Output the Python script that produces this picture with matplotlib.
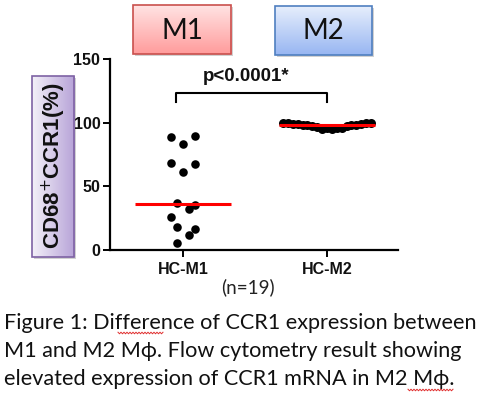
import numpy as np
import matplotlib
matplotlib.use("Agg")
import matplotlib.pyplot as plt
from matplotlib.patches import Rectangle
from matplotlib.colors import LinearSegmentedColormap

# ---------------- data ----------------
categories = ["HC-M1", "HC-M2"]
m1_values = [88.5, 89.6, 83.0, 68.7, 67.2, 61.5, 37.0, 35.0, 32.3, 26.0, 18.2, 16.2, 12.0, 5.2]
m2_values = [99.8, 99.6, 99.3, 99.0, 98.5, 98.0, 97.2, 96.5, 95.0, 95.8, 94.8, 96.0, 95.5,
             97.0, 98.0, 98.5, 99.0, 99.4, 99.7]
y_ticks = [0, 50, 100, 150]
p_label = "p<0.0001*"
n_label = "(n=19)"
y_label = "CD68$^{+}$CCR1(%)"
caption_lines = [
    "Figure 1: Difference of CCR1 expression between",
    "M1 and M2 M\u03d5. Flow cytometry result showing",
    "elevated expression of CCR1 mRNA in M2 M\u03d5.",
]

# horizontal scatter offsets (layout only)
m1_offsets = [-0.081, 0.081, 0.0, -0.081, 0.081, 0.0, -0.04, 0.081, 0.04,
              -0.081, -0.04, 0.081, 0.04, -0.04]
m2_offsets = np.linspace(-0.305, 0.305, len(m2_values))

W, H = 486, 394
fig = plt.figure(figsize=(W / 100, H / 100), dpi=100)

# overlay in pixel coordinates
ov = fig.add_axes([0, 0, 1, 1], zorder=0)
ov.set_xlim(0, W)
ov.set_ylim(H, 0)
ov.axis("off")


def grad_box(x0, y0, x1, y1, c_start, c_end, edge, vertical=True):
    ov.add_patch(Rectangle((x0 + 2, y0 + 2), x1 - x0, y1 - y0, facecolor="#9a9a9a",
                           alpha=0.45, edgecolor="none", zorder=1))
    cmap = LinearSegmentedColormap.from_list("g", [c_start, c_end])
    g = np.linspace(0, 1, 64)
    arr = g[:, None] if vertical else g[None, :]
    ov.imshow(arr, cmap=cmap, extent=(x0, x1, y1, y0), aspect="auto", zorder=2,
              interpolation="bilinear")
    ov.add_patch(Rectangle((x0, y0), x1 - x0, y1 - y0, facecolor="none",
                           edgecolor=edge, linewidth=1.2, zorder=3))


grad_box(133, 5, 231, 54, "#FFE3E3", "#FF9C9C", "#C9504D", vertical=True)
grad_box(275, 6, 372, 54.5, "#E6EEFC", "#98B6F2", "#4F7FC0", vertical=True)
grad_box(32, 76, 74, 257, "#F3F0F8", "#B7A3D8", "#7E62A4", vertical=False)

ov.set_xlim(0, W)
ov.set_ylim(H, 0)

ov.text(182, 31, "M1", fontsize=20, family=["Lato", "DejaVu Sans"], ha="center",
        va="center", color="#111111", zorder=4)
ov.text(323.5, 31, "M2", fontsize=20, family=["Lato", "DejaVu Sans"], ha="center",
        va="center", color="#111111", zorder=4)
ov.text(54, 166, y_label, fontsize=16, family="Liberation Sans", weight="bold",
        rotation=90, ha="center", va="center", color="#111111", zorder=4)
ov.text(247.5, 287, n_label, fontsize=13.5, family=["Lato", "DejaVu Sans"],
        ha="center", va="center", color="#222222", zorder=4)

cap_y = [323, 351, 379]
for yy, line in zip(cap_y, caption_lines):
    ov.text(4, yy, line, fontsize=15.6, family=["Lato", "DejaVu Sans"], ha="left",
            va="center", color="#111111", zorder=4)


def squiggle(xa, xb, yy):
    xs = np.arange(xa, xb + 0.1, 1.5)
    ys = yy + np.where(np.arange(len(xs)) % 2 == 0, -0.8, 0.8)
    ov.plot(xs, ys, color="#E03030", lw=0.7, zorder=4)


squiggle(118, 163, 333)
squiggle(408, 454, 390)

# ---------------- data axes ----------------
ax = fig.add_axes([110 / W, 1 - 250 / H, (398 - 110) / W, (250 - 59) / H], zorder=2)
ax.patch.set_alpha(0)
ax.set_xlim(-0.507, 1.493)
ax.set_ylim(0, 150)

xpos = np.arange(len(categories))
ax.scatter(xpos[0] + np.array(m1_offsets), m1_values, s=38, color="black", zorder=3,
           clip_on=False, linewidths=0)
ax.scatter(xpos[1] + m2_offsets, m2_values, s=42, color="black", zorder=3,
           clip_on=False, linewidths=0)
for xi, vals in zip(xpos, [m1_values, m2_values]):
    med = np.median(vals)
    ax.plot([xi - 0.33, xi + 0.33], [med, med], color="#FF0000", lw=2.2, zorder=4,
            solid_capstyle="butt")

# significance bracket
bx0, bx1, by, bdrop = -0.05, 1.0, 123, 116.5
ax.plot([bx0, bx0, bx1, bx1], [bdrop, by, by, bdrop], color="black", lw=1.5,
        clip_on=False, zorder=4)
ax.text(0.44, 136.5, p_label, fontsize=13.5, family="Liberation Sans", weight="bold",
        ha="center", va="center", color="#111111")

for s in ["top", "right"]:
    ax.spines[s].set_visible(False)
for s in ["left", "bottom"]:
    ax.spines[s].set_linewidth(1.6)
ax.set_yticks(y_ticks)
ax.set_xticks(xpos)
ax.set_xticklabels(categories)
ax.tick_params(axis="both", direction="out", length=5, width=1.4, labelsize=11.5,
               colors="black", pad=2)
for lbl in ax.get_xticklabels() + ax.get_yticklabels():
    lbl.set_fontfamily("Liberation Sans")
    lbl.set_fontweight("bold")
    lbl.set_color("#111111")
ax.tick_params(axis="x", pad=4)

fig.savefig("out.png", dpi=100)
